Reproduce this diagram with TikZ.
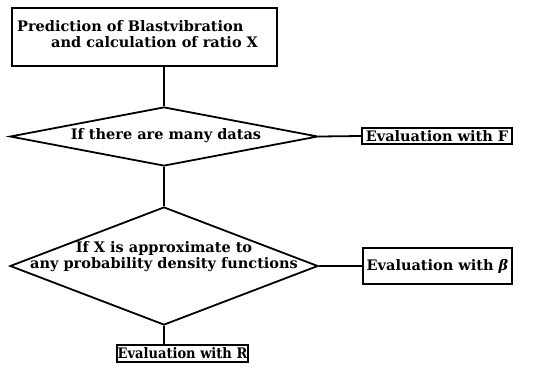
\documentclass[tikz,border=0pt]{standalone}
\usepackage{fontspec}
\setmainfont{DejaVu Serif}
\usetikzlibrary{shapes.geometric}
\begin{document}
\begin{tikzpicture}[x=1pt,y=-1pt,
  every node/.style={font=\fontsize{14.5}{16}\selectfont\bfseries},
  ln/.style={line width=1.8pt},
  box/.style={draw,line width=1.8pt,rectangle,inner sep=0pt},
  dia/.style={draw,line width=1.8pt,diamond,inner sep=0pt}]
\useasboundingbox (0,0) rectangle (537,389);
\node[box,minimum width=265pt,minimum height=58pt] (top) at (144.5,37) {};
\node[anchor=west,align=left,inner sep=0pt] (toptext) at (17,34) {Prediction of Blastvibration\\\hspace*{34pt}and calculation of ratio X};
\node[dia,minimum width=308pt,minimum height=59pt] (d1) at (164,136.5) {};
\node[inner sep=0pt] (d1t) at (166,136) {If there are many datas};
\node[box,minimum width=150pt,minimum height=16pt] (bF) at (437,136) {\scalebox{1.0}[1]{Evaluation with F}};
\node[dia,minimum width=308pt,minimum height=118pt] (d2) at (164,266) {};
\node[align=center,inner sep=0pt] (d2t) at (164,257) {If X is approximate to\\any probability density functions};
\node[box,minimum width=149pt,minimum height=36pt] (bB) at (437.5,266) {Evaluation with {\itshape β}};
\node[box,minimum width=131pt,minimum height=17pt] (bR) at (182.5,353.5) {\scalebox{0.9}[1]{Evaluation with R}};
\draw[ln] (d1.north |- top.south) -- (d1.north);
\draw[ln] (d1.east) -- (bF.west);
\draw[ln] (d1.south) -- (d2.north);
\draw[ln] (d2.east) -- (bB.west);
\draw[ln] (d2.south) -- (d2.south |- bR.north);
\end{tikzpicture}
\end{document}
